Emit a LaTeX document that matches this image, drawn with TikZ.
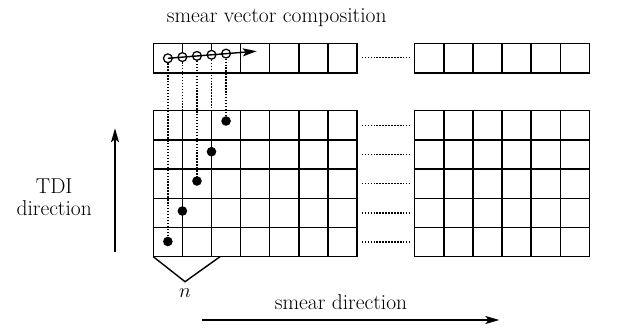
\documentclass[tikz,border=0pt]{standalone}
\usetikzlibrary{arrows.meta}
\tikzset{
  cellline/.style={line width=1pt},
  dotline/.style={line width=1pt, dash pattern=on 1pt off 1.1pt},
  opendot/.style={circle, draw, line width=0.9pt, fill=white, inner sep=0pt, minimum size=2.2mm},
  fulldot/.style={circle, fill=black, inner sep=0pt, minimum size=2.4mm},
  lbl/.style={font=\fontsize{15.3}{15.5}\selectfont, inner sep=0pt},
}
\begin{document}
\begin{tikzpicture}[x=0.025cm, y=-0.025cm, >={Stealth[length=3.5mm, width=2mm, inset=0.8mm]}]
    \useasboundingbox (0,0) rectangle (622,328);
    \node[lbl] (title) at (276.7,18) {smear vector composition};
    % top row
    \coordinate (tl) at (153.3,43.3);
    \draw[cellline] (tl) rectangle (357,73);
    \foreach \i in {3,...,6} \draw[cellline] (153.3+29.1*\i,43.3) -- ++(0,29.7);
    \draw[cellline] (414.7,43.3) rectangle (589.3,73);
    \foreach \i in {1,...,5} \draw[cellline] (414.7+29.1*\i,43.3) -- ++(0,29.7);
    \draw[dotline] (361.7,57.5) -- (409,57.5);
    % main grids
    \foreach \j in {0,...,4} {
      \foreach \i in {0,...,6} \draw[cellline] (153.3+29.1*\i,110.7+29.2*\j) rectangle ++(29.1,29.2);
      \foreach \i in {0,...,5} \draw[cellline] (414.7+29.1*\i,110.7+29.2*\j) rectangle ++(29.1,29.2);
      \draw[dotline] (361.7,125.3+29.2*\j) -- (409,125.3+29.2*\j);
    }
    % smear samples
    \foreach \k/\cy/\dy in {1/58.3/241.5, 2/57.1/211, 3/55.9/181, 4/54.8/151.7, 5/53.6/121} {
      \node[fulldot] (d\k) at (153.3+14.55*\k,\dy) {};
      \node[opendot] (c\k) at (153.3+14.55*\k,\cy) {};
      \draw[dotline] (c\k.south) -- (d\k.center);
    }
    \draw[cellline] (c2.north) -- (c2.north |- tl);
    \draw[cellline] (c4.north) -- (c4.north |- tl);
    \coordinate (vtip) at (256.7,51.2);
    \draw[->, line width=1pt] (c1.center) -- (vtip);
    % n bracket
    \coordinate (vl) at (153.3,256.7);
    \coordinate (apex) at (185,281.7);
    \coordinate (vr) at (220,256.7);
    \draw[line width=1pt] (vl) -- (apex) -- (vr);
    \node[lbl] (nlbl) at (185,293) {$n$};
    % directions
    \node[lbl, align=center] (tdi) at (54.2,197) {TDI\\direction};
    \coordinate (tdiS) at (115,251.7);
    \coordinate (tdiE) at (115,128.3);
    \draw[->, line width=1pt] (tdiS) -- (tdiE);
    \node[lbl] (smear) at (341,302) {smear direction};
    \coordinate (smS) at (201.7,320);
    \coordinate (smE) at (499.3,320);
    \draw[->, line width=1pt] (smS) -- (smE);
  \end{tikzpicture}
\end{document}
